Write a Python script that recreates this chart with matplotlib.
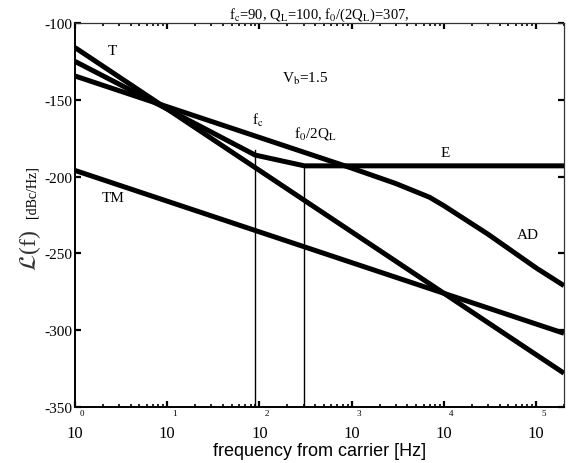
import numpy as np
import matplotlib
matplotlib.use("Agg")
import matplotlib.pyplot as plt
from matplotlib.ticker import LogLocator, NullFormatter, FixedLocator
import matplotlib.transforms as mtrans

plt.rcParams['font.family'] = ['Liberation Serif', 'DejaVu Serif']
plt.rcParams['mathtext.fontset'] = 'stix'
plt.rcParams['axes.unicode_minus'] = False

# corner frequencies
fc = 90.0
f0_2ql = 307.0

# curves (frequency [Hz], L(f) [dBc/Hz])
t_f = [1, 10, 100, 1e3, 1e4, 1e5, 2e5]
t_L = [-116, -156, -196, -236, -276, -316, -328]

tm_f = [1, 10, 100, 1e3, 1e4, 1e5, 2e5]
tm_L = [-196, -216, -236, -256, -276, -296, -302]

e_f = [1, 10, 90, 307, 1e3, 1e4, 1e5, 2e5]
e_L = [-125, -156, -186, -193, -193, -193, -193, -193]

ad_f = [1, 10, 100, 1e3, 3e3, 7e3, 1e4, 3e4, 1e5, 2e5]
ad_L = [-134.5, -154.5, -174.5, -194.5, -204.5, -213.5, -219, -237.5, -259.5, -271]

decades = [0, 1, 2, 3, 4, 5]
yticks = [-100, -150, -200, -250, -300, -350]

W, H = 573, 464
fig = plt.figure(figsize=(W / 100, H / 100), dpi=100)
ax = fig.add_axes([75 / W, 56 / H, 489 / W, 384 / H])

lw = 3.6
ax.plot(t_f, t_L, color='black', lw=lw, solid_capstyle='butt')
ax.plot(tm_f, tm_L, color='black', lw=lw, solid_capstyle='butt')
ax.plot(e_f, e_L, color='black', lw=lw, solid_capstyle='butt')
ax.plot(ad_f, ad_L, color='black', lw=lw, solid_capstyle='butt')

# vertical markers at fc and f0/2QL
ax.plot([fc, fc], [-350, -182.7], color='black', lw=1.0)
ax.plot([f0_2ql, f0_2ql], [-350, -193], color='black', lw=1.0)

ax.set_xscale('log')
ax.set_xlim(1, 2e5)
ax.set_ylim(-350, -100)

ax.xaxis.set_major_locator(FixedLocator([10.0 ** d for d in decades]))
ax.xaxis.set_minor_locator(LogLocator(base=10, subs=np.arange(2, 10), numticks=20))
ax.xaxis.set_major_formatter(NullFormatter())
ax.xaxis.set_minor_formatter(NullFormatter())
ax.set_yticks(yticks)
ax.set_yticklabels([str(v) for v in yticks], fontsize=11)

ax.tick_params(which='major', direction='in', length=4, width=1.6,
               top=True, right=True, pad=2)
ax.tick_params(which='minor', direction='in', length=2.5, width=1.2,
               top=True, right=True)
for s in ['left', 'bottom']:
    ax.spines[s].set_linewidth(1.4)
for s in ['top', 'right']:
    ax.spines[s].set_linewidth(0.9)
    ax.spines[s].set_color('#333333')

# matlab-style "10" with the exponent above it
trans = mtrans.blended_transform_factory(ax.transData, fig.transFigure)
for d in decades:
    x = 10.0 ** d
    ax.text(x, 1 - 434 / H, '10', transform=trans, ha='center', va='center',
            fontsize=12)
    ax.text(x * 1.2, 1 - 414 / H, str(d), transform=trans, ha='center',
            va='center', fontsize=6.5)

ax.set_title(r'f$_\mathrm{c}$=90, Q$_\mathrm{L}$=100, f$_\mathrm{0}$/(2Q$_\mathrm{L}$)=307,',
             fontsize=10.5, pad=4)

# curve labels
ax.text(2.52, -117.6, 'T', fontsize=11, ha='center', va='center')
ax.text(2.59, -213.9, 'TM', fontsize=11, ha='center', va='center')
ax.text(1.03e4, -184, 'E', fontsize=11, ha='center', va='center')
ax.text(8.2e4, -237.4, 'AD', fontsize=11, ha='center', va='center')
ax.text(316, -136, r'V$_\mathrm{b}$=1.5', fontsize=11, ha='center', va='center')
ax.text(96, -163, r'f$_\mathrm{c}$', fontsize=11, ha='center', va='center')
ax.text(406, -171, r'f$_\mathrm{0}$/2Q$_\mathrm{L}$', fontsize=11, ha='center', va='center')

# axis labels
fig.text(30 / W, 1 - 251 / H, r'$\mathcal{L}$(f)', rotation=90, fontsize=17,
         ha='center', va='center', color='#333333')
fig.text(32 / W, 1 - 192 / H, '[dBc/Hz]', rotation=90, fontsize=10,
         ha='center', va='center')
fig.text(320 / W, 1 - 452 / H, 'frequency from carrier [Hz]', fontsize=13,
         family=['Liberation Sans', 'DejaVu Sans'], ha='center', va='center')

fig.savefig('out.png', dpi=100)
